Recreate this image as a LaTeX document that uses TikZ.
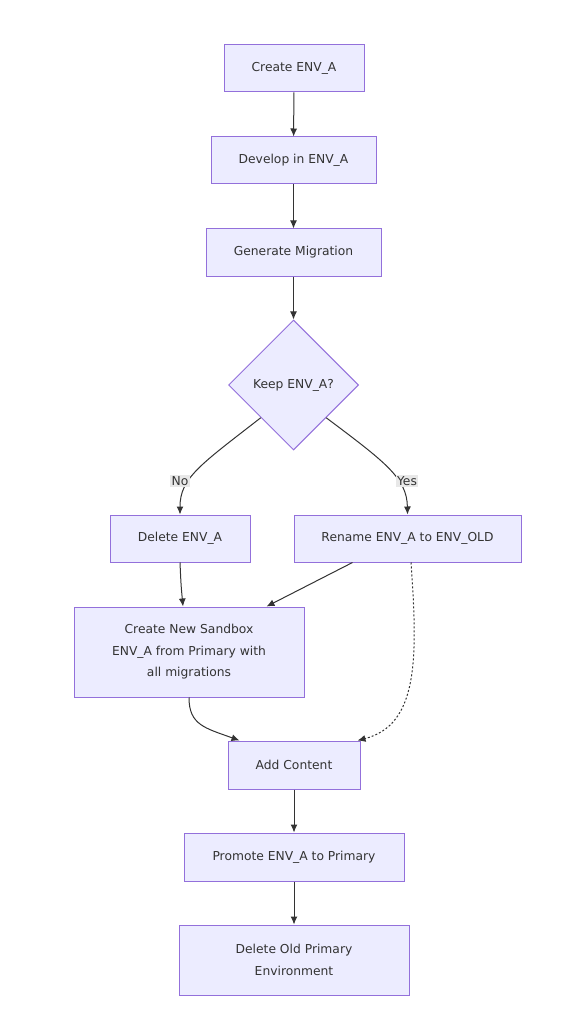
\documentclass[tikz,border=0pt]{standalone}
\usepackage{fontspec}
\setmainfont{DejaVu Sans}
\usepackage{xcolor}
\usepackage{tikz}
\usetikzlibrary{shapes.geometric,arrows.meta}
\definecolor{boxfill}{HTML}{ECECFF}
\definecolor{boxline}{HTML}{9370DB}
\definecolor{darktext}{HTML}{333333}
\definecolor{lblfill}{HTML}{E8E8E8}

\begin{document}
\begin{tikzpicture}[
    x=1pt, y=-1pt,
    font=\fontsize{12.3}{21.5}\selectfont,
    box/.style={draw=boxline, fill=boxfill, rectangle, minimum height=47pt, align=center, text=darktext, line width=1pt},
    choice/.style={draw=boxline, fill=boxfill, diamond, aspect=1, minimum width=130pt, minimum height=130pt, inner sep=0pt, align=center, text=darktext, line width=1pt},
    lbl/.style={fill=lblfill, text=darktext, inner sep=1.5pt},
    line/.style={draw=darktext, -{Latex[length=8pt,width=7pt]}, line width=1pt}
]
    \useasboundingbox (0,0) rectangle (564,1024);

    % Nodes
    \node[box, minimum width=140pt] (create) at (294,68.5) {Create ENV\_A};
    \node[box, minimum width=165pt] (develop) at (293.5,160.5) {Develop in ENV\_A};
    \node[box, minimum width=175pt] (migr) at (293.5,252.5) {Generate Migration};
    \node[choice] (keep) at (293.5,385) {Keep ENV\_A?};
    \node[box, minimum width=140pt] (del) at (180,538.5) {Delete ENV\_A};
    \node[box, minimum width=227pt] (ren) at (407.5,538.5) {Rename ENV\_A to ENV\_OLD};
    \node[box, minimum width=230pt, minimum height=90pt] (sandbox) at (189,652) {Create New Sandbox\\ENV\_A from Primary with\\all migrations};
    \node[box, minimum width=132pt, minimum height=48pt] (content) at (294,765) {Add Content};
    \node[box, minimum width=220pt, minimum height=48pt] (promote) at (294,857) {Promote ENV\_A to Primary};
    \node[box, minimum width=230pt, minimum height=70pt] (oldprim) at (294,960) {Delete Old Primary\\Environment};

    % Connections
    \draw[line] (create) -- (develop);
    \draw[line] (develop) -- (migr);
    \draw[line] (migr) -- (keep);
    \draw[line] (keep.south west) .. controls (200,465) and (180,478) .. (del.north);
    \draw[line] (keep.south east) .. controls (385,462) and (407,478) .. (ren.north);
    \draw[line] (del.south) .. controls (181,585) .. ([xshift=-6pt]sandbox.north);
    \draw[line] ([xshift=59pt]ren.south west) -- ([xshift=193pt]sandbox.north west);
    \draw[line, dash pattern=on 2pt off 2pt] ([xshift=3.5pt]ren.south) .. controls (418,660) and (418,725) .. ([xshift=-3pt]content.north east);
    \draw[line] (sandbox.south) .. controls (189,725) and (205,728) .. ([xshift=12pt]content.north west);
    \draw[line] (content) -- (promote);
    \draw[line] (promote) -- (oldprim);

    % Labels
    \node[lbl] (no) at (180,481) {No};
    \node[lbl] (yes) at (407,481) {Yes};
\end{tikzpicture}
\end{document}
